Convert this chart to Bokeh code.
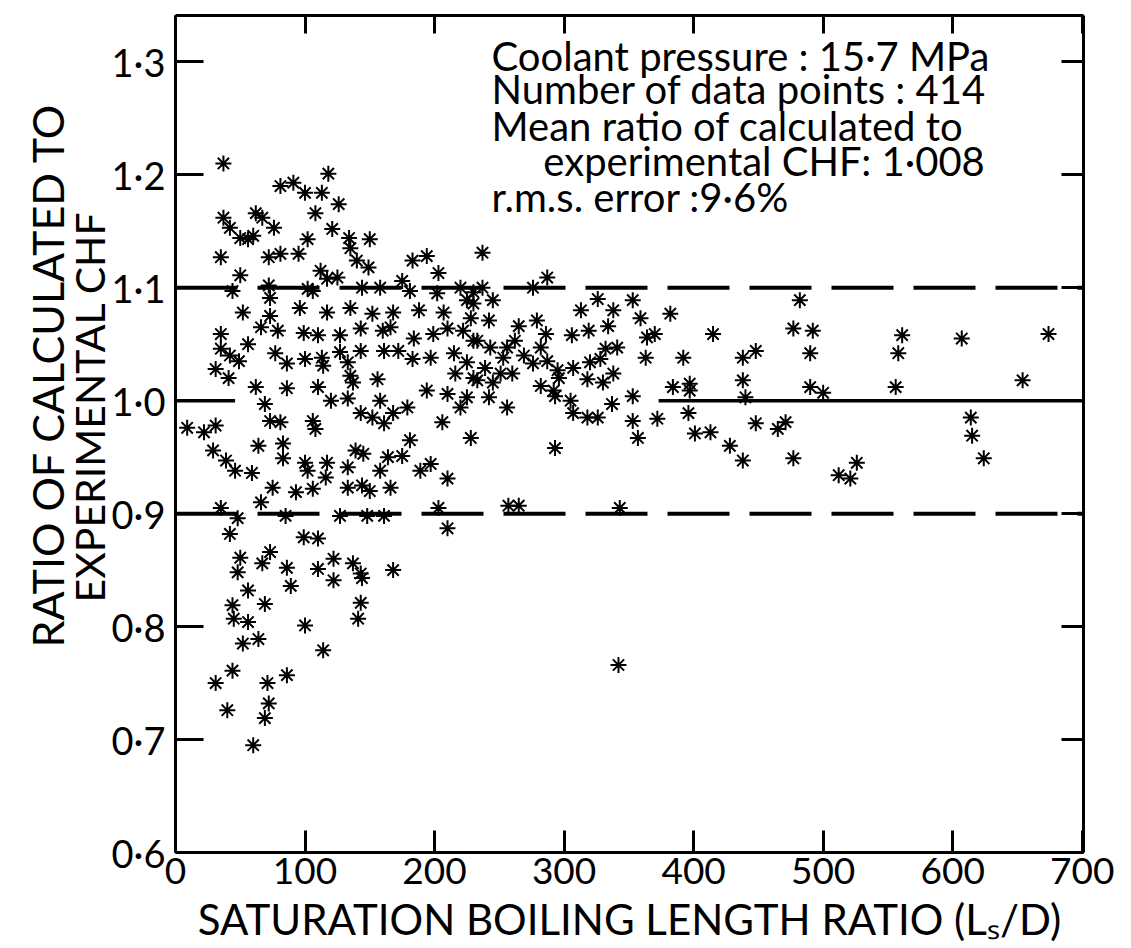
from bokeh.plotting import figure
from bokeh.models import LinearAxis, FixedTicker, CustomJSTickFormatter, Label, Span, Title
from bokeh.embed import file_html
from bokeh.resources import INLINE

# ---------------- data ----------------
ls_d = [37, 81, 91, 100, 113, 118, 126, 37, 42, 62, 67, 76, 108, 50, 56, 60, 102, 121, 134, 150,
        35, 72, 81, 95, 135, 140, 149, 183, 194, 237, 203, 50, 112, 117, 125, 144, 158, 175, 181, 202,
        220, 230, 237, 276, 287, 44, 72, 106,
        73, 102, 225,
        52, 73, 96, 117, 135, 152, 168, 188, 207, 230, 228,
        35, 66, 79, 99, 110, 127, 143, 160, 166, 184, 199, 210, 222, 230,
        35, 42, 49, 56, 77, 100, 113, 114, 127, 133, 143, 161, 172, 183, 197, 215, 225,
        31, 41, 86, 135, 156, 216, 230, 137,
        62, 86, 110, 133, 158, 179, 194, 210, 220, 69, 120, 225,
        9, 22, 31, 73, 81, 106, 108, 143, 152, 161, 168, 206, 228,
        29, 39, 46, 59, 64, 83, 83, 100, 102, 117, 133, 139, 145, 158, 164, 175, 181, 189, 197, 210,
        75, 93, 106, 116, 133, 144, 150, 166,
        35, 48, 66, 85, 99, 110, 127, 148, 161, 203, 210, 42, 50, 67, 73, 86, 110, 122, 137, 143, 168,
        48, 122, 144, 56, 89, 69, 44, 56, 45, 64, 52, 100, 114, 143, 141, 31, 44, 71, 86, 40, 72, 69, 60,
        245, 242, 265, 279, 286, 313, 306, 319, 326, 338, 334, 353, 359, 364, 370, 382, 415,
        233, 243, 256, 262, 282, 269, 276, 287, 239, 253, 251, 260, 233, 245, 256, 242, 282, 295, 296, 292,
        307, 318, 320, 328, 332, 341, 338, 330, 363, 392, 438, 448,
        293, 305, 307, 318, 326, 337, 353, 384, 397, 397, 438, 440, 353, 357, 372, 396, 401, 413, 448, 428,
        438, 293, 465, 257, 265, 343,
        342,
        482, 477, 492, 490, 561, 558, 607, 674, 490, 500, 556, 654, 471, 477, 526, 512, 521, 614, 615, 624]

ratio = [1.210, 1.190, 1.193, 1.184, 1.184, 1.201, 1.174, 1.162, 1.153, 1.166, 1.162, 1.153, 1.166,
         1.144, 1.143, 1.146, 1.143, 1.152, 1.144, 1.143, 1.127, 1.127, 1.130, 1.130, 1.135, 1.124,
         1.118, 1.124, 1.128, 1.131, 1.113, 1.111, 1.115, 1.108, 1.109, 1.100, 1.100, 1.106, 1.097,
         1.095, 1.100, 1.096, 1.100, 1.100, 1.109, 1.097, 1.102, 1.097,
         1.091, 1.099, 1.089,
         1.078, 1.075, 1.082, 1.078, 1.082, 1.077, 1.078, 1.080, 1.078, 1.086, 1.073,
         1.059, 1.065, 1.062, 1.060, 1.058, 1.058, 1.064, 1.062, 1.065, 1.055, 1.059, 1.064, 1.062, 1.053,
         1.046, 1.040, 1.035, 1.050, 1.042, 1.037, 1.038, 1.031, 1.043, 1.034, 1.044, 1.044, 1.044,
         1.037, 1.038, 1.042, 1.034,
         1.028, 1.020, 1.033, 1.022, 1.019, 1.024, 1.020, 1.016,
         1.012, 1.011, 1.012, 1.002, 1.000, 0.994, 1.009, 1.006, 0.994, 0.997, 1.000, 1.003,
         0.976, 0.972, 0.978, 0.982, 0.981, 0.982, 0.975, 0.989, 0.985, 0.980, 0.989, 0.981, 0.967,
         0.956, 0.947, 0.938, 0.936, 0.960, 0.962, 0.949, 0.945, 0.938, 0.945, 0.941, 0.956, 0.953,
         0.938, 0.950, 0.951, 0.965, 0.938, 0.944, 0.931,
         0.923, 0.919, 0.922, 0.932, 0.923, 0.925, 0.920, 0.923,
         0.905, 0.896, 0.910, 0.898, 0.879, 0.878, 0.898, 0.898, 0.898, 0.905, 0.887, 0.882, 0.861,
         0.856, 0.866, 0.852, 0.851, 0.860, 0.856, 0.847, 0.850,
         0.848, 0.841, 0.843, 0.832, 0.836, 0.820, 0.819, 0.804, 0.807, 0.789, 0.785, 0.801, 0.779,
         0.821, 0.807, 0.750, 0.761, 0.750, 0.757, 0.726, 0.732, 0.719, 0.695,
         1.089, 1.071, 1.066, 1.071, 1.059, 1.080, 1.058, 1.062, 1.090, 1.080, 1.066, 1.089, 1.073,
         1.056, 1.059, 1.077, 1.059,
         1.053, 1.047, 1.047, 1.053, 1.047, 1.040, 1.033, 1.035, 1.029, 1.038, 1.024, 1.024, 1.018,
         1.016, 0.994, 1.003, 1.013, 1.027, 1.020, 1.009, 1.029, 1.019, 1.034, 1.037, 1.046, 1.047,
         1.024, 1.016, 1.038, 1.038, 1.038, 1.044,
         1.004, 1.000, 0.989, 0.985, 0.985, 0.997, 1.004, 1.012, 1.015, 1.009, 1.018, 1.003, 0.982,
         0.967, 0.984, 0.989, 0.971, 0.972, 0.980, 0.960, 0.947, 0.958, 0.975, 0.907, 0.907, 0.905,
         0.766,
         1.089, 1.064, 1.062, 1.042, 1.058, 1.042, 1.055, 1.059, 1.012, 1.007, 1.012, 1.018, 0.981,
         0.949, 0.945, 0.934, 0.931, 0.985, 0.969, 0.949]

x_ticks = [0, 100, 200, 300, 400, 500, 600, 700]
y_ticks = [0.6, 0.7, 0.8, 0.9, 1.0, 1.1, 1.2, 1.3]

band_low = 0.9
band_high = 1.1
unity = 1.0
unity_start = [0, 373]
unity_end = [46, 701]

x_title = "SATURATION BOILING LENGTH RATIO (Lₛ/D)"
y_title_outer = "RATIO OF CALCULATED TO"
y_title_inner = "EXPERIMENTAL CHF"

info_lines = ["Coolant pressure : 15·7 MPa",
              "Number of data points : 414",
              "Mean ratio of calculated to",
              "experimental CHF: 1·008",
              "r.m.s. error :9·6%"]
info_y = [1.305, 1.276, 1.243, 1.212, 1.180]
info_x = [244, 244, 244, 284, 244]

assert len(ls_d) == len(ratio)

FONT = "Lato"

p = figure(width=1131, height=948, x_range=(0, 701), y_range=(0.6, 1.341),
           output_backend="svg", toolbar_location=None,
           min_border_left=175, min_border_right=48, min_border_top=15, min_border_bottom=96,
           x_axis_label=x_title)
p.outline_line_color = None
p.grid.visible = False
p.background_fill_color = "white"
p.border_fill_color = "white"

# reference lines
for loc in (band_low, band_high):
    p.add_layout(Span(location=loc, dimension="width", line_color="black",
                      line_width=4, line_dash="62 20"))
p.segment(x0=unity_start, y0=[unity] * 2, x1=unity_end, y1=[unity] * 2,
          line_color="black", line_width=3.5)

# data points
p.scatter(ls_d, ratio, marker="asterisk", size=16, line_color="black", line_width=2)


def style_axis(ax, tick_in):
    ax.axis_line_width = 3
    ax.axis_line_color = "black"
    ax.major_tick_line_width = 3
    ax.major_tick_line_color = "black"
    ax.major_tick_in = tick_in
    ax.major_tick_out = 0
    ax.minor_tick_line_width = 3
    ax.minor_tick_line_color = "black"
    ax.minor_tick_in = tick_in
    ax.minor_tick_out = 0


xa = p.xaxis[0]
xa.ticker = FixedTicker(ticks=x_ticks, minor_ticks=[])
style_axis(xa, 22)
xa.major_label_text_font = FONT
xa.major_label_text_font_size = "37px"
xa.major_label_text_color = "black"
xa.major_label_standoff = 5
xa.axis_label_text_font = FONT
xa.axis_label_text_font_size = "42px"
xa.axis_label_text_font_style = "normal"
xa.axis_label_text_color = "black"
xa.axis_label_standoff = 7

ya = p.yaxis[0]
ya.ticker = FixedTicker(ticks=y_ticks, minor_ticks=[])
ya.formatter = CustomJSTickFormatter(code="return tick.toFixed(1).replace('.', '\u00b7');")
style_axis(ya, 28)
ya.major_label_text_font = FONT
ya.major_label_text_font_size = "38px"
ya.major_label_text_color = "black"
ya.major_label_standoff = 10

# top / right frame axes: ticks only (minor ticks carry no labels)
top = LinearAxis(ticker=FixedTicker(ticks=[], minor_ticks=x_ticks))
style_axis(top, 18)
p.add_layout(top, "above")

right = LinearAxis(ticker=FixedTicker(ticks=[], minor_ticks=y_ticks))
style_axis(right, 22)
p.add_layout(right, "right")

# y-axis title, two lines
p.add_layout(Title(text=y_title_inner, align="left", offset=250, standoff=-12,
                   text_font=FONT, text_font_size="41px", text_font_style="normal",
                   text_color="black", vertical_align="middle"), "left")
p.add_layout(Title(text=y_title_outer, align="left", offset=205, standoff=-8,
                   text_font=FONT, text_font_size="43px", text_font_style="normal",
                   text_color="black", vertical_align="middle"), "left")

# info block
for t, xx, yy in zip(info_lines, info_x, info_y):
    p.add_layout(Label(x=xx, y=yy, text=t, text_align="left", text_baseline="middle",
                       text_font=FONT, text_font_size="40px", text_color="black"))

with open("out.html", "w", encoding="utf-8") as f:
    f.write(file_html(p, INLINE))
